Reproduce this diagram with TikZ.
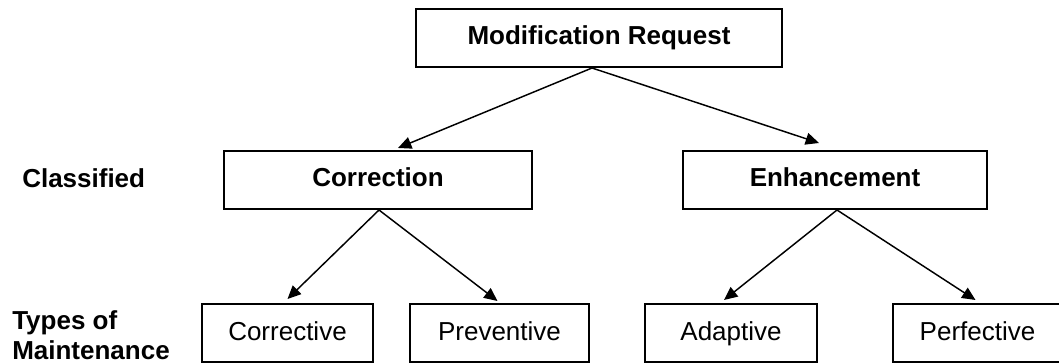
\documentclass[tikz,border=0pt]{standalone}
\usepackage{fontspec}
\setmainfont{Liberation Sans}
\usetikzlibrary{arrows.meta,calc}
\begin{document}
\begin{tikzpicture}[x=0.75pt,y=-0.75pt,
  box/.style={draw, line width=1.5pt, minimum height=43.5pt, inner sep=0pt,
    text height=14pt, text depth=3.5pt,
    font=\fontsize{19.5}{23}\selectfont},
  bbox/.style={box, font=\fontsize{19.5}{23}\selectfont\bfseries},
  lbl/.style={anchor=west, align=left, inner sep=0pt,
    font=\fontsize{19.5}{22.5}\selectfont\bfseries},
  arr/.style={-{Triangle[length=10pt,width=9pt]}, line width=1.1pt}]
\useasboundingbox (0,0) rectangle (1059,363);

% nodes
\node[bbox, minimum width=274.5pt] (mr) at (599,38) {Modification Request};
\node[bbox, minimum width=231pt] (corr) at (378,180) {Correction};
\node[bbox, minimum width=228pt] (enh) at (835,180) {Enhancement};
\node[box, minimum width=128.25pt] (cv) at (287.5,333) {Corrective};
\node[box, minimum width=134.25pt] (pv) at (499.5,333) {Preventive};
\node[box, minimum width=129pt] (ad) at (731,333) {Adaptive};
\node[box, minimum width=127.5pt] (pf) at (977.5,333) {Perfective};

\node[lbl] (cls) at (22,178) {Classified};
\node[lbl] (tom) at (12,335) {Types of\\Maintenance};

% connectors
\coordinate (mrA) at ($(mr.south)+(-7,0)$);
\draw[arr] (mrA) -- ($(corr.north)+(20,-2)$);
\draw[arr] (mrA) -- ($(enh.north)+(-16,-7)$);
\coordinate (corrA) at ($(corr.south)+(1,0)$);
\draw[arr] (corrA) -- ($(cv.north)+(0,-4)$);
\draw[arr] (corrA) -- ($(pv.north)+(-2,-2)$);
\coordinate (enhA) at ($(enh.south)+(2,0)$);
\draw[arr] (enhA) -- ($(ad.north)+(-7,-3)$);
\draw[arr] (enhA) -- ($(pf.north)+(-2,-3)$);
\end{tikzpicture}
\end{document}
